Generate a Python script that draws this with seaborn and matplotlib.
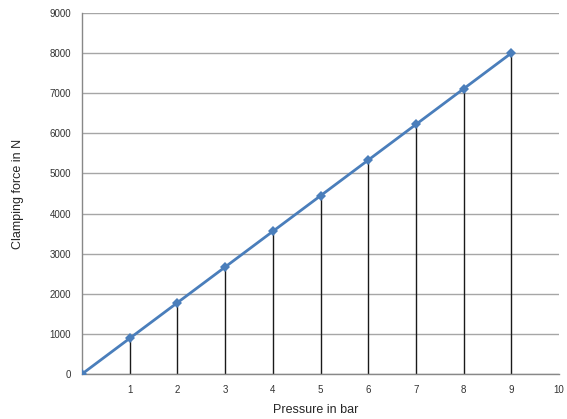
import matplotlib
matplotlib.use("Agg")
import matplotlib.pyplot as plt
import seaborn as sns
import pandas as pd

# Clamping force vs pressure
pressure = [0, 1, 2, 3, 4, 5, 6, 7, 8, 9]
force = [0, 889, 1778, 2667, 3556, 4444, 5333, 6222, 7111, 8000]
x_ticks = [1, 2, 3, 4, 5, 6, 7, 8, 9, 10]
y_ticks = [0, 1000, 2000, 3000, 4000, 5000, 6000, 7000, 8000, 9000]

df = pd.DataFrame({"Pressure": pressure, "Force": force})

sns.set_style("white")
plt.rcParams["font.family"] = ["Liberation Sans", "DejaVu Sans"]

fig = plt.figure(figsize=(5.67, 4.19), dpi=100)
ax = fig.add_axes([0.1446, 0.1074, 0.8414, 0.8616])

# horizontal gridlines
for y in y_ticks:
    ax.axhline(y, color="#A6A6A6", lw=1.0, zorder=0)

# drop lines to the x axis
ax.vlines(df["Pressure"], 0, df["Force"], color="#1a1a1a", lw=1.0, zorder=1)

sns.lineplot(data=df, x="Pressure", y="Force", ax=ax, color="#4A7EBB",
             lw=2.0, marker="D", markersize=5, markeredgewidth=0, zorder=3)

ax.set_xlim(0, 10)
ax.set_ylim(0, 9000)
ax.set_xticks(x_ticks)
ax.set_yticks(y_ticks)
ax.tick_params(axis="x", labelsize=7, length=0, pad=8, colors="#333333")
ax.tick_params(axis="y", labelsize=7, length=4, width=1, color="#888888", pad=4, labelcolor="#333333")
ax.set_xticklabels([str(t) for t in x_ticks])
ax.set_yticklabels([str(t) for t in y_ticks])

for side in ["top", "right"]:
    ax.spines[side].set_visible(False)
for side in ["left", "bottom"]:
    ax.spines[side].set_color("#888888")
    ax.spines[side].set_linewidth(1.0)

ax.set_xlabel("Pressure in bar", fontsize=9)
ax.set_ylabel("Clamping force in N", fontsize=9)
ax.xaxis.set_label_coords(0.49, -0.10)
ax.yaxis.set_label_coords(-0.134, 0.5)
ax.xaxis.label.set_va("center")
ax.yaxis.label.set_va("center")

fig.savefig("out.png", dpi=100)
